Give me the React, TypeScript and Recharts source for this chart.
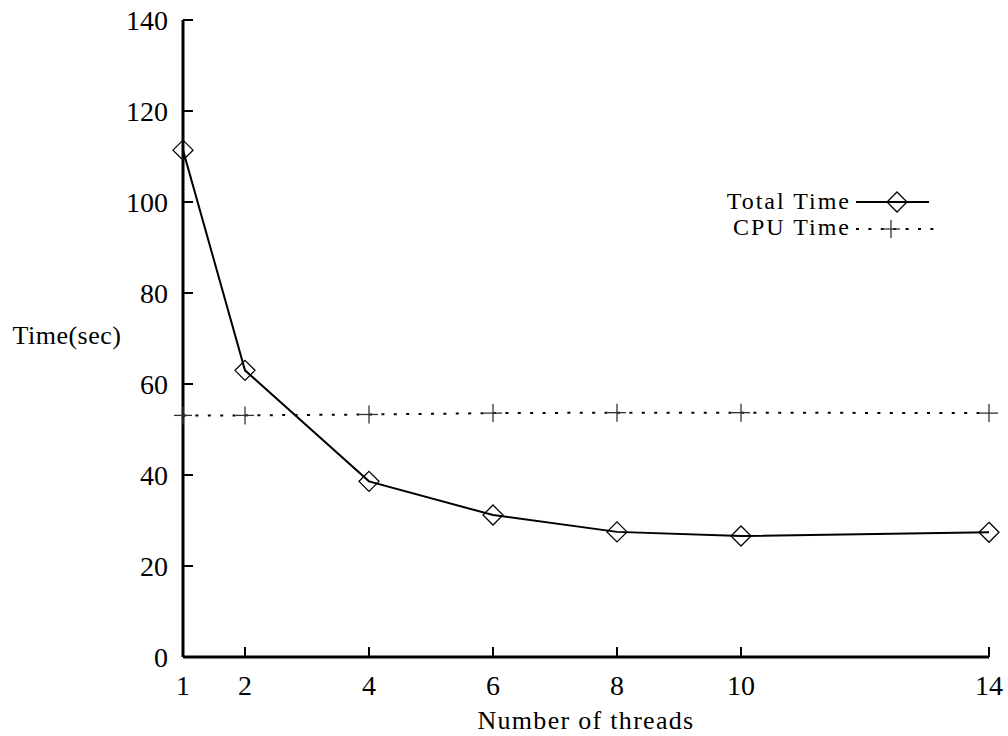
import React from "react";
import {
  LineChart,
  Line,
  XAxis,
  YAxis,
  Customized,
} from "recharts";

const threads = [1, 2, 4, 6, 8, 10, 14];
const totalTime = [111.4, 63.0, 38.6, 31.2, 27.5, 26.6, 27.4];
const cpuTime = [53.1, 53.1, 53.3, 53.6, 53.7, 53.7, 53.6];
const xTicks = [1, 2, 4, 6, 8, 10, 14];
const yTicks = [0, 20, 40, 60, 80, 100, 120, 140];
const seriesNames = ["Total Time", "CPU Time"];

const chartData = threads.map((t, i) => ({
  threads: t,
  total: totalTime[i],
  cpu: cpuTime[i],
}));

const FONT = "'Liberation Serif', 'DejaVu Serif', serif";
const TICK_LEN = 10;
const FRAME = { stroke: "#000", strokeWidth: 3 };

const Diamond = (props: any) => {
  const { cx, cy } = props;
  if (cx == null || cy == null) return null;
  const r = 10;
  return (
    <polygon
      points={`${cx},${cy - r} ${cx + r},${cy} ${cx},${cy + r} ${cx - r},${cy}`}
      fill="none"
      stroke="#000"
      strokeWidth={1.3}
    />
  );
};

const Plus = (props: any) => {
  const { cx, cy } = props;
  if (cx == null || cy == null) return null;
  const r = 9;
  return (
    <g stroke="#333" strokeWidth={1.3}>
      <line x1={cx - r} y1={cy} x2={cx + r} y2={cy} />
      <line x1={cx} y1={cy - r} x2={cx} y2={cy + r} />
    </g>
  );
};

// left axis: label plus an inward tick
const LeftTick = (props: any) => {
  const { x, y, payload } = props;
  const axisX = x + 15;
  return (
    <g>
      <text
        x={x}
        y={y}
        dy="0.35em"
        textAnchor="end"
        fontFamily={FONT}
        fontSize={28}
        fill="#000"
      >
        {payload.value}
      </text>
      <line x1={axisX} y1={y} x2={axisX + TICK_LEN} y2={y} stroke="#000" strokeWidth={2} />
    </g>
  );
};

const BottomTick = (props: any) => {
  const { x, y, payload } = props;
  const axisY = y - 28;
  return (
    <g>
      <text
        x={x}
        y={y}
        dy="0.35em"
        textAnchor="middle"
        fontFamily={FONT}
        fontSize={28}
        fill="#000"
      >
        {payload.value}
      </text>
      <line x1={x} y1={axisY} x2={x} y2={axisY - TICK_LEN} stroke="#000" strokeWidth={2} />
    </g>
  );
};

const TopTick = (props: any) => {
  const { x, y } = props;
  return <line x1={x} y1={y} x2={x} y2={y + TICK_LEN} stroke="#000" strokeWidth={2} />;
};

const RightTick = (props: any) => {
  const { x, y } = props;
  return <line x1={x} y1={y} x2={x - TICK_LEN} y2={y} stroke="#000" strokeWidth={2} />;
};

const Titles = () => (
  <g fontFamily={FONT} fill="#000">
    <text x={67} y={344} fontSize={26} letterSpacing={0.5} textAnchor="middle">
      Time(sec)
    </text>
    <text x={586} y={729} fontSize={26} letterSpacing={1.3} textAnchor="middle">
      Number of threads
    </text>
    {/* legend */}
    <text x={851} y={209} fontSize={24} letterSpacing={2} textAnchor="end">
      {seriesNames[0]}
    </text>
    <line x1={856} y1={202} x2={929} y2={202} stroke="#000" strokeWidth={2} />
    <Diamond cx={897} cy={202} />
    <text x={851} y={235} fontSize={24} letterSpacing={2} textAnchor="end">
      {seriesNames[1]}
    </text>
    <line
      x1={856}
      y1={229}
      x2={934}
      y2={229}
      stroke="#000"
      strokeWidth={2}
      strokeDasharray="3 9.4"
    />
    <Plus cx={891} cy={229} />
  </g>
);

export default function App() {
  return (
    <div style={{ position: "absolute", left: 0, top: 0, background: "#fff" }}>
      <LineChart
        width={1008}
        height={736}
        data={chartData}
        margin={{ top: 20, right: 19, bottom: 39, left: 123 }}
      >
        <XAxis
          dataKey="threads"
          type="number"
          domain={[1, 14]}
          ticks={xTicks}
          height={40}
          tickSize={0}
          tickMargin={28}
          tickLine={false}
          tick={<BottomTick />}
          interval={0}
          axisLine={FRAME}
        />
        <XAxis
          xAxisId="t"
          orientation="top"
          dataKey="threads"
          type="number"
          domain={[1, 14]}
          ticks={xTicks}
          height={0}
          tickSize={0}
          tickMargin={0}
          tickLine={false}
          tick={<TopTick />}
          interval={0}
          axisLine={FRAME}
        />
        <YAxis
          type="number"
          domain={[0, 140]}
          ticks={yTicks}
          width={60}
          tickSize={0}
          tickMargin={15}
          tickLine={false}
          tick={<LeftTick />}
          interval={0}
          axisLine={FRAME}
        />
        <YAxis
          yAxisId="r"
          orientation="right"
          type="number"
          domain={[0, 140]}
          ticks={yTicks}
          width={0}
          tickSize={0}
          tickMargin={0}
          tickLine={false}
          tick={<RightTick />}
          interval={0}
          axisLine={FRAME}
        />
        <Line
          type="linear"
          dataKey="cpu"
          name={seriesNames[1]}
          stroke="#000"
          strokeWidth={2}
          strokeDasharray="3 9.4"
          dot={<Plus />}
          isAnimationActive={false}
        />
        <Line
          type="linear"
          dataKey="total"
          name={seriesNames[0]}
          stroke="#000"
          strokeWidth={2}
          dot={<Diamond />}
          isAnimationActive={false}
        />
        <Customized component={Titles} />
      </LineChart>
    </div>
  );
}
